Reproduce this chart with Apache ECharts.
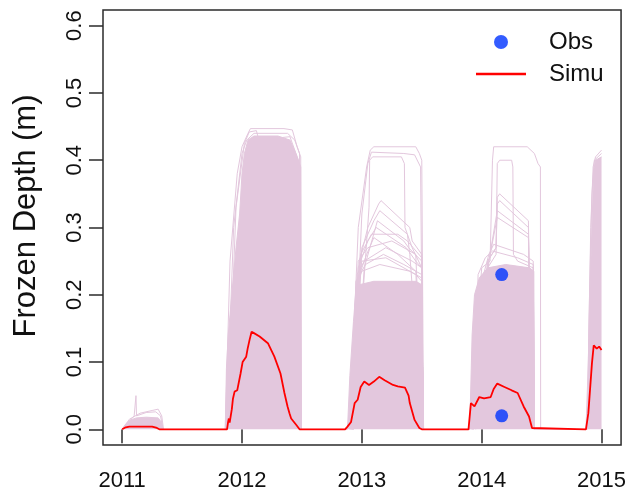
<!DOCTYPE html>
<html>
<head>
<meta charset="utf-8">
<script src="https://cdn.jsdelivr.net/npm/echarts@6/dist/echarts.min.js"></script>
<style>
  html, body { margin: 0; padding: 0; background: #fff; }
  #chart { width: 629px; height: 494px; }
</style>
</head>
<body>
<div id="chart"></div>
<script>
// Axis ticks
const xTicks = [2011, 2012, 2013, 2014, 2015];
const yTicks = [0, 0.1, 0.2, 0.3, 0.4, 0.5, 0.6];

// Observed frozen depth (decimal year, m)
const obs = [[2014.167, 0.23], [2014.167, 0.02]];

// Reference simulation (decimal year, m)
const simu = [
  [2011.00, 0], [2011.03, 0.003], [2011.06, 0.004], [2011.15, 0.004], [2011.25, 0.004], [2011.29, 0.002], [2011.31, 0],
  [2011.875, 0], [2011.884, 0.011], [2011.89, 0.016], [2011.897, 0.010], [2011.915, 0.030], [2011.924, 0.045],
  [2011.938, 0.056], [2011.96, 0.058], [2011.988, 0.083], [2012.005, 0.100], [2012.035, 0.108], [2012.047, 0.120],
  [2012.063, 0.133], [2012.08, 0.145], [2012.10, 0.143], [2012.147, 0.138], [2012.163, 0.137], [2012.216, 0.128],
  [2012.27, 0.108], [2012.321, 0.083], [2012.354, 0.054], [2012.38, 0.034], [2012.396, 0.024], [2012.41, 0.016],
  [2012.455, 0.006], [2012.48, 0],
  [2012.86, 0], [2012.88, 0.004], [2012.91, 0.011], [2012.94, 0.039], [2012.965, 0.044], [2012.99, 0.063],
  [2013.02, 0.071], [2013.06, 0.066], [2013.10, 0.071], [2013.145, 0.078], [2013.19, 0.073], [2013.26, 0.066],
  [2013.30, 0.064], [2013.36, 0.062], [2013.37, 0.061], [2013.39, 0.050], [2013.40, 0.039], [2013.44, 0.014],
  [2013.48, 0.002], [2013.50, 0],
  [2013.89, 0], [2013.905, 0.002], [2013.91, 0.039], [2013.94, 0.034], [2013.98, 0.048], [2014.02, 0.046],
  [2014.075, 0.048], [2014.10, 0.060], [2014.13, 0.068], [2014.19, 0.063], [2014.25, 0.058], [2014.30, 0.054],
  [2014.35, 0.034], [2014.395, 0.019], [2014.42, 0.002], [2014.43, 0],
  [2014.87, 0], [2014.89, 0.024], [2014.92, 0.098], [2014.935, 0.125], [2014.96, 0.120], [2014.98, 0.123], [2015.00, 0.118]
];

// Dense core of the parameter ensemble (upper edge of the overlapping runs)
const ensembleCore = [
  [2011.00, 0], [2011.03, 0.008], [2011.07, 0.014], [2011.12, 0.017], [2011.20, 0.018], [2011.30, 0.017], [2011.33, 0.010], [2011.34, 0],
  [2011.86, 0], [2011.87, 0.09], [2011.885, 0.14], [2011.92, 0.21], [2011.95, 0.27], [2011.98, 0.32], [2012.00, 0.38],
  [2012.02, 0.41], [2012.05, 0.43], [2012.10, 0.436], [2012.30, 0.436], [2012.40, 0.43], [2012.45, 0.41], [2012.49, 0.39], [2012.495, 0],
  [2012.88, 0], [2012.90, 0.08], [2012.93, 0.16], [2012.95, 0.205], [2012.98, 0.215], [2013.10, 0.22], [2013.30, 0.22],
  [2013.45, 0.22], [2013.50, 0.215], [2013.515, 0],
  [2013.90, 0], [2013.92, 0.14], [2013.94, 0.20], [2013.98, 0.225], [2014.05, 0.24], [2014.20, 0.245], [2014.40, 0.24],
  [2014.435, 0.235], [2014.44, 0],
  [2014.88, 0], [2014.89, 0.06], [2014.90, 0.18], [2014.92, 0.30], [2014.935, 0.385], [2014.95, 0.40], [2015.00, 0.405]
];

// Individual ensemble runs that stand out above the core
const runs2011 = [
  [[2011.00, 0], [2011.05, 0.010], [2011.10, 0.020], [2011.115, 0.050], [2011.12, 0.020], [2011.20, 0.025], [2011.28, 0.026], [2011.32, 0.020], [2011.34, 0]],
  [[2011.00, 0], [2011.06, 0.015], [2011.15, 0.024], [2011.25, 0.028], [2011.30, 0.030], [2011.33, 0.020], [2011.345, 0]]
];
const runs2012 = [
  [[2011.86, 0], [2011.90, 0.25], [2011.96, 0.38], [2012.00, 0.42], [2012.05, 0.44], [2012.07, 0.447], [2012.35, 0.447], [2012.42, 0.445], [2012.46, 0.42], [2012.49, 0.405], [2012.495, 0]],
  [[2011.87, 0], [2011.93, 0.30], [2012.00, 0.41], [2012.04, 0.43], [2012.10, 0.44], [2012.38, 0.44], [2012.44, 0.43], [2012.48, 0.41], [2012.49, 0]],
  [[2011.88, 0], [2011.95, 0.33], [2012.02, 0.425], [2012.06, 0.442], [2012.12, 0.444], [2012.14, 0.43], [2012.40, 0.435], [2012.47, 0.40], [2012.485, 0]]
];
const runs2013 = [
  [[2012.90, 0], [2012.97, 0.30], [2013.04, 0.39], [2013.07, 0.415], [2013.10, 0.42], [2013.45, 0.42], [2013.48, 0.41], [2013.50, 0.40], [2013.515, 0]],
  [[2012.92, 0], [2013.00, 0.32], [2013.05, 0.395], [2013.08, 0.412], [2013.35, 0.41], [2013.44, 0.408], [2013.49, 0.39], [2013.51, 0]],
  [[2012.93, 0], [2013.06, 0.33], [2013.065, 0.40], [2013.09, 0.405], [2013.33, 0.405], [2013.355, 0.395], [2013.36, 0.30], [2013.42, 0.27], [2013.50, 0.24], [2013.51, 0]],
  [[2012.92, 0], [2012.98, 0.25], [2013.05, 0.30], [2013.14, 0.335], [2013.16, 0.34], [2013.40, 0.30], [2013.42, 0.28], [2013.50, 0.26], [2013.51, 0]],
  [[2012.93, 0], [2013.00, 0.27], [2013.10, 0.31], [2013.15, 0.325], [2013.38, 0.29], [2013.40, 0.26], [2013.51, 0]],
  [[2012.92, 0], [2012.97, 0.24], [2013.05, 0.28], [2013.12, 0.30], [2013.37, 0.27], [2013.45, 0.25], [2013.50, 0.24], [2013.51, 0]],
  [[2012.91, 0], [2012.96, 0.22], [2013.04, 0.26], [2013.10, 0.285], [2013.30, 0.26], [2013.45, 0.235], [2013.51, 0]],
  [[2012.93, 0], [2013.02, 0.24], [2013.13, 0.31], [2013.35, 0.28], [2013.39, 0.27], [2013.50, 0.25], [2013.51, 0]],
  [[2012.90, 0], [2012.95, 0.20], [2013.00, 0.25], [2013.20, 0.255], [2013.45, 0.23], [2013.50, 0.22], [2013.51, 0]],
  [[2012.91, 0], [2012.95, 0.21], [2013.00, 0.235], [2013.15, 0.245], [2013.40, 0.235], [2013.50, 0.225], [2013.51, 0]],
  [[2012.92, 0], [2012.96, 0.23], [2013.02, 0.25], [2013.20, 0.27], [2013.42, 0.25], [2013.50, 0.24], [2013.51, 0]],
  [[2012.92, 0], [2012.97, 0.25], [2013.05, 0.27], [2013.25, 0.28], [2013.45, 0.26], [2013.51, 0]],
  [[2012.93, 0], [2012.99, 0.26], [2013.08, 0.29], [2013.30, 0.29], [2013.38, 0.28], [2013.50, 0.255], [2013.51, 0]],
  [[2012.91, 0], [2012.95, 0.22], [2013.03, 0.245], [2013.18, 0.26], [2013.35, 0.245], [2013.50, 0.23], [2013.51, 0]]
];
const runs2014 = [
  [[2013.90, 0], [2014.00, 0.24], [2014.07, 0.25], [2014.09, 0.40], [2014.10, 0.42], [2014.38, 0.42], [2014.44, 0.41], [2014.47, 0.395], [2014.49, 0.39], [2014.492, 0]],
  [[2013.92, 0], [2014.05, 0.24], [2014.12, 0.26], [2014.13, 0.395], [2014.15, 0.40], [2014.25, 0.40], [2014.26, 0.39], [2014.265, 0.26], [2014.30, 0.25], [2014.43, 0.24], [2014.44, 0]],
  [[2013.92, 0], [2014.05, 0.25], [2014.12, 0.27], [2014.13, 0.345], [2014.15, 0.35], [2014.39, 0.31], [2014.395, 0.24], [2014.44, 0]],
  [[2013.93, 0], [2014.05, 0.25], [2014.12, 0.27], [2014.13, 0.335], [2014.15, 0.34], [2014.39, 0.30], [2014.395, 0.24], [2014.44, 0]],
  [[2013.92, 0], [2014.06, 0.25], [2014.13, 0.325], [2014.39, 0.29], [2014.395, 0.24], [2014.44, 0]],
  [[2013.93, 0], [2014.06, 0.25], [2014.13, 0.315], [2014.39, 0.285], [2014.395, 0.24], [2014.44, 0]],
  [[2013.95, 0], [2014.00, 0.22], [2014.06, 0.26], [2014.10, 0.275], [2014.35, 0.26], [2014.43, 0.25], [2014.44, 0]],
  [[2013.93, 0], [2013.97, 0.23], [2014.03, 0.255], [2014.09, 0.265], [2014.30, 0.255], [2014.43, 0.245], [2014.44, 0]]
];
const runs2015 = [
  [[2014.87, 0], [2014.89, 0.10], [2014.91, 0.30], [2014.93, 0.39], [2014.95, 0.405], [2015.00, 0.415]],
  [[2014.88, 0], [2014.90, 0.20], [2014.92, 0.35], [2014.94, 0.40], [2015.00, 0.41]]
];

const pink = '#e3c7dd';
const font = '"Liberation Sans", Arial, Helvetica, sans-serif';

const runSeries = [].concat(runs2011, runs2012, runs2013, runs2014, runs2015).map(run => ({
  type: 'line',
  name: 'ensemble',
  data: run,
  symbol: 'none',
  silent: true,
  lineStyle: { color: pink, width: 1 },
  z: 2
}));

const chart = echarts.init(document.getElementById('chart'), null, { renderer: 'canvas' });
chart.setOption({
  animation: false,
  backgroundColor: '#fff',
  textStyle: { fontFamily: font },
  grid: {
    left: 103, top: 10, width: 519, height: 435,
    show: true, borderColor: '#2b2b2b', borderWidth: 1.5, backgroundColor: 'transparent'
  },
  legend: {
    data: [
      { name: 'Obs', icon: 'circle' },
      { name: 'Simu', icon: 'path://M0,0L50,0L50,2.4L0,2.4Z' }
    ],
    orient: 'vertical',
    left: 476, top: 30,
    padding: 0,
    itemWidth: 50, itemHeight: 14, itemGap: 8,
    textStyle: { fontFamily: font, fontSize: 24, color: '#111', padding: [0, 0, 0, 18], lineHeight: 24 }
  },
  xAxis: {
    type: 'value',
    min: 2010.84, max: 2015.163,
    axisLine: { show: false },
    splitLine: { show: false },
    axisTick: { show: true, length: 14, customValues: xTicks, lineStyle: { color: '#2b2b2b', width: 1.5 } },
    axisLabel: {
      customValues: xTicks, margin: 25, fontSize: 22, color: '#111', fontFamily: font,
      formatter: v => String(Math.round(v))
    }
  },
  yAxis: {
    type: 'value',
    min: -0.0233, max: 0.6233,
    axisLine: { show: false },
    splitLine: { show: false },
    axisTick: { show: true, length: 14, customValues: yTicks, lineStyle: { color: '#2b2b2b', width: 1.5 } },
    axisLabel: {
      customValues: yTicks, rotate: 90, margin: 17, fontSize: 22, color: '#111', fontFamily: font,
      formatter: v => v.toFixed(1)
    }
  },
  graphic: [{
    type: 'text',
    x: 26, y: 216,
    rotation: Math.PI / 2,
    style: {
      text: 'Frozen Depth (m)', fontSize: 31, fontFamily: font, fill: '#111',
      align: 'center', verticalAlign: 'middle'
    }
  }],
  series: [
    {
      type: 'line',
      name: 'ensemble',
      data: ensembleCore,
      symbol: 'none',
      silent: true,
      lineStyle: { color: pink, width: 1 },
      areaStyle: { color: pink, opacity: 1 },
      z: 1
    },
    ...runSeries,
    {
      type: 'line',
      name: 'Simu',
      data: simu,
      symbol: 'none',
      lineStyle: { color: '#ff0000', width: 1.8 },
      itemStyle: { color: '#ff0000' },
      z: 5
    },
    {
      type: 'scatter',
      name: 'Obs',
      data: obs,
      symbol: 'circle',
      symbolSize: 13,
      itemStyle: { color: '#0033ff' },
      z: 6
    }
  ]
});
</script>
</body>
</html>
